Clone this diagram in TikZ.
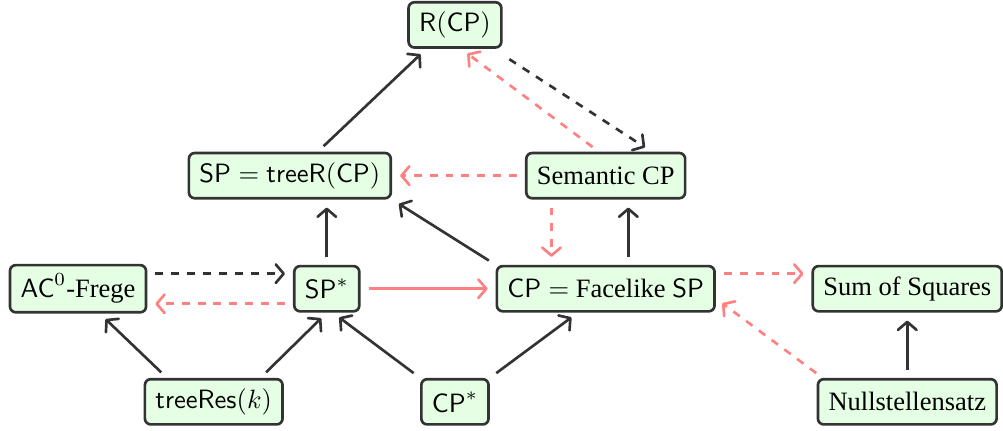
\documentclass[tikz,border=0pt]{standalone}
\usepackage[no-math]{fontspec}
\setmainfont{Liberation Serif}
\usetikzlibrary{arrows.meta,positioning}

\begin{document}
\begin{tikzpicture}[>={Straight Barb[length=3pt,width=7pt,round]}, shorten >=3pt, shorten <=3pt, node distance=1.5cm, on grid,
    psys/.style={draw=black!80, fill=green!10, line width=1pt, rounded corners=2.2pt,
        rectangle, inner xsep=4pt, minimum height=0.6cm, align=center},
    sim/.style={->, draw=black!80, line width=1pt},
    simq/.style={sim, dashed},
    sep/.style={->, draw=red!50, line width=1pt},
    sepq/.style={sep, dashed}]
    \useasboundingbox (-0.035,-0.385) rectangle (13.27,5.33);

    % Middle row
    \node (ACFrege) [psys] at (1,1.5) {$\mathsf{AC}^0$-Frege};
    \node (SPStar) [psys, right=3.3cm of ACFrege] {$\mathsf{SP}^*$};
    \node (CPFace) [psys, right=3.7cm of SPStar] {$\mathsf{CP} =$ Facelike $\mathsf{SP}$};
    \node (SumSquares) [psys, right=4cm of CPFace] {Sum of Squares};

    % Upper rows
    \node (SPTreeR) [psys, above left=1.5cm and 0.49cm of SPStar] {$\mathsf{SP} = \mathsf{treeR}(\mathsf{CP})$};
    \node (SemanticCP) [psys, above=of CPFace] {Semantic CP};
    \node (RCP) [psys, above left=3.5cm and 2cm of CPFace] {$\mathsf{R}(\mathsf{CP})$};

    % Bottom row
    \node (TreeRes) [psys, below left=1.5cm and 1.5cm of SPStar] {$\mathsf{treeRes}(k)$};
    \node (CPStar) [psys, below left=1.5cm and 2cm of CPFace] {$\mathsf{CP}^*$};
    \node (Nullstellensatz) [psys, below=of SumSquares] {Nullstellensatz};

    % Simulations
    \draw[sim] ([xshift=0.37cm]SPTreeR.north) -- ([xshift=-0.38cm]RCP.south);
    \draw[sim] (SPStar) -- (SPStar |- SPTreeR.south);
    \draw[sim] (CPFace.north west) -- (SPTreeR.south east);
    \draw[sim] ([xshift=0.3cm]CPFace.north) -- ([xshift=0.3cm]SemanticCP.south);
    \draw[sim] ([xshift=-0.62cm]TreeRes.north) -- ([xshift=0.29cm]ACFrege.south);
    \draw[sim] ([xshift=0.62cm]TreeRes.north) -- (SPStar.south);
    \draw[sim] (CPStar.north west) -- ([xshift=0.08cm]SPStar.south);
    \draw[sim] (CPStar.north east) -- ([xshift=-0.37cm]CPFace.south);
    \draw[sim] (Nullstellensatz) -- (SumSquares);
    \draw[simq] ([yshift=-0.08cm]RCP.south east) -- ([xshift=0.61cm]SemanticCP.north);
    \draw[simq] ([yshift=0.2cm]ACFrege.east) -- ([yshift=0.2cm]SPStar.west);

    % Separations
    \draw[sep] (SPStar) -- (CPFace);
    \draw[sepq] ([xshift=-0.09cm]SemanticCP.north) -- ([xshift=0.08cm]RCP.south);
    \draw[sepq] (SemanticCP) -- (SPTreeR);
    \draw[sepq] ([xshift=-0.72cm]SemanticCP.south) -- ([xshift=-0.72cm]CPFace.north);
    \draw[sepq] ([yshift=-0.2cm]SPStar.west) -- ([yshift=-0.2cm]ACFrege.east);
    \draw[sepq] ([yshift=0.2cm]CPFace.east) -- ([yshift=0.2cm]SumSquares.west);
    \draw[sepq] ([xshift=0.08cm]Nullstellensatz.north west) -- ([yshift=-0.13cm]CPFace.east);

\end{tikzpicture}
\end{document}
